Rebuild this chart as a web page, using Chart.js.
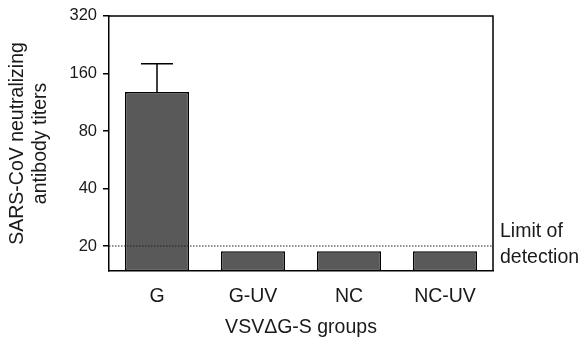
<!DOCTYPE html>
<html>
<head>
<meta charset="utf-8">
<script src="https://cdn.jsdelivr.net/npm/chart.js@4"></script>
<style>
html,body{margin:0;padding:0;background:#fff;}
canvas{display:block;}
</style>
</head>
<body>
<canvas id="c" width="587" height="344"></canvas>
<script>
const categories = ['G', 'G-UV', 'NC', 'NC-UV'];
const titers = [128, 18.8, 18.8, 18.8];
const errorUpper = [180, null, null, null];
const yTicks = [20, 40, 80, 160, 320];
const yMin = 14.8;
const yMax = 320;
const detectionLimit = 20;
const yTitle = ['SARS-CoV neutralizing', 'antibody titers'];
const xTitle = 'VSV\u0394G-S groups';
const limitLabel = ['Limit of', 'detection'];

const FONT = "'Liberation Sans', Arial, Helvetica, sans-serif";
const INK = '#1a1a1a';

const extras = {
  id: 'extras',
  afterDatasetsDraw(chart) {
    const ctx = chart.ctx;
    const ys = chart.scales.y;
    const area = chart.chartArea;
    const meta = chart.getDatasetMeta(0);
    ctx.save();
    // error bars
    ctx.strokeStyle = '#000';
    ctx.lineWidth = 1.5;
    meta.data.forEach((bar, i) => {
      const e = errorUpper[i];
      if (e == null) return;
      const yTop = ys.getPixelForValue(e);
      const yBar = ys.getPixelForValue(titers[i]);
      const half = bar.width / 4;
      ctx.beginPath();
      ctx.moveTo(bar.x, yBar);
      ctx.lineTo(bar.x, yTop);
      ctx.moveTo(bar.x - half, yTop);
      ctx.lineTo(bar.x + half, yTop);
      ctx.stroke();
    });
    // detection limit line
    const yl = ys.getPixelForValue(detectionLimit);
    ctx.setLineDash([1.5, 1.5]);
    ctx.lineWidth = 1;
    ctx.strokeStyle = '#222';
    ctx.beginPath();
    ctx.moveTo(area.left, yl);
    ctx.lineTo(area.right, yl);
    ctx.stroke();
    ctx.setLineDash([]);
    // frame top & right
    ctx.lineWidth = 1.5;
    ctx.strokeStyle = '#000';
    ctx.beginPath();
    ctx.moveTo(area.left, area.top);
    ctx.lineTo(area.right, area.top);
    ctx.lineTo(area.right, area.bottom);
    ctx.stroke();
    // limit label
    ctx.fillStyle = INK;
    ctx.font = '19.5px ' + FONT;
    ctx.textAlign = 'left';
    ctx.textBaseline = 'middle';
    ctx.fillText(limitLabel[0], area.right + 7, yl - 14);
    ctx.fillText(limitLabel[1], area.right + 7, yl + 12);
    ctx.restore();
  }
};

new Chart(document.getElementById('c'), {
  type: 'bar',
  data: {
    labels: categories,
    datasets: [{
      data: titers,
      backgroundColor: '#595959',
      borderColor: '#000',
      borderWidth: 1.5,
      borderSkipped: false,
      barPercentage: 0.667,
      categoryPercentage: 1.0
    }]
  },
  options: {
    responsive: false,
    animation: false,
    devicePixelRatio: 1,
    layout: { padding: { left: 0, top: 14, right: 94, bottom: 0 } },
    plugins: { legend: { display: false }, tooltip: { enabled: false } },
    scales: {
      x: {
        grid: { display: false, drawTicks: false },
        border: { display: true, color: '#000', width: 1.5 },
        ticks: { color: INK, font: { family: FONT, size: 19.5 }, padding: 14 },
        title: { display: true, text: xTitle, color: INK, font: { family: FONT, size: 19.5 }, padding: { top: 0, bottom: 5 } },
        afterFit(s) { s.height = 73; }
      },
      y: {
        type: 'logarithmic',
        min: yMin,
        max: yMax,
        afterBuildTicks(s) { s.ticks = yTicks.map(v => ({ value: v })); },
        grid: { display: true, drawOnChartArea: false, drawTicks: true, tickLength: 6, color: '#000', lineWidth: 1.5 },
        border: { display: true, color: '#000', width: 1.5 },
        ticks: { color: INK, font: { family: FONT, size: 16.5 }, padding: 6, callback: (v) => String(v) },
        title: { display: true, text: yTitle, color: INK, font: { family: FONT, size: 19.5 }, padding: { top: 6, bottom: 0 } },
        afterFit(s) { s.width = 109; }
      }
    }
  },
  plugins: [extras]
});
</script>
</body>
</html>
